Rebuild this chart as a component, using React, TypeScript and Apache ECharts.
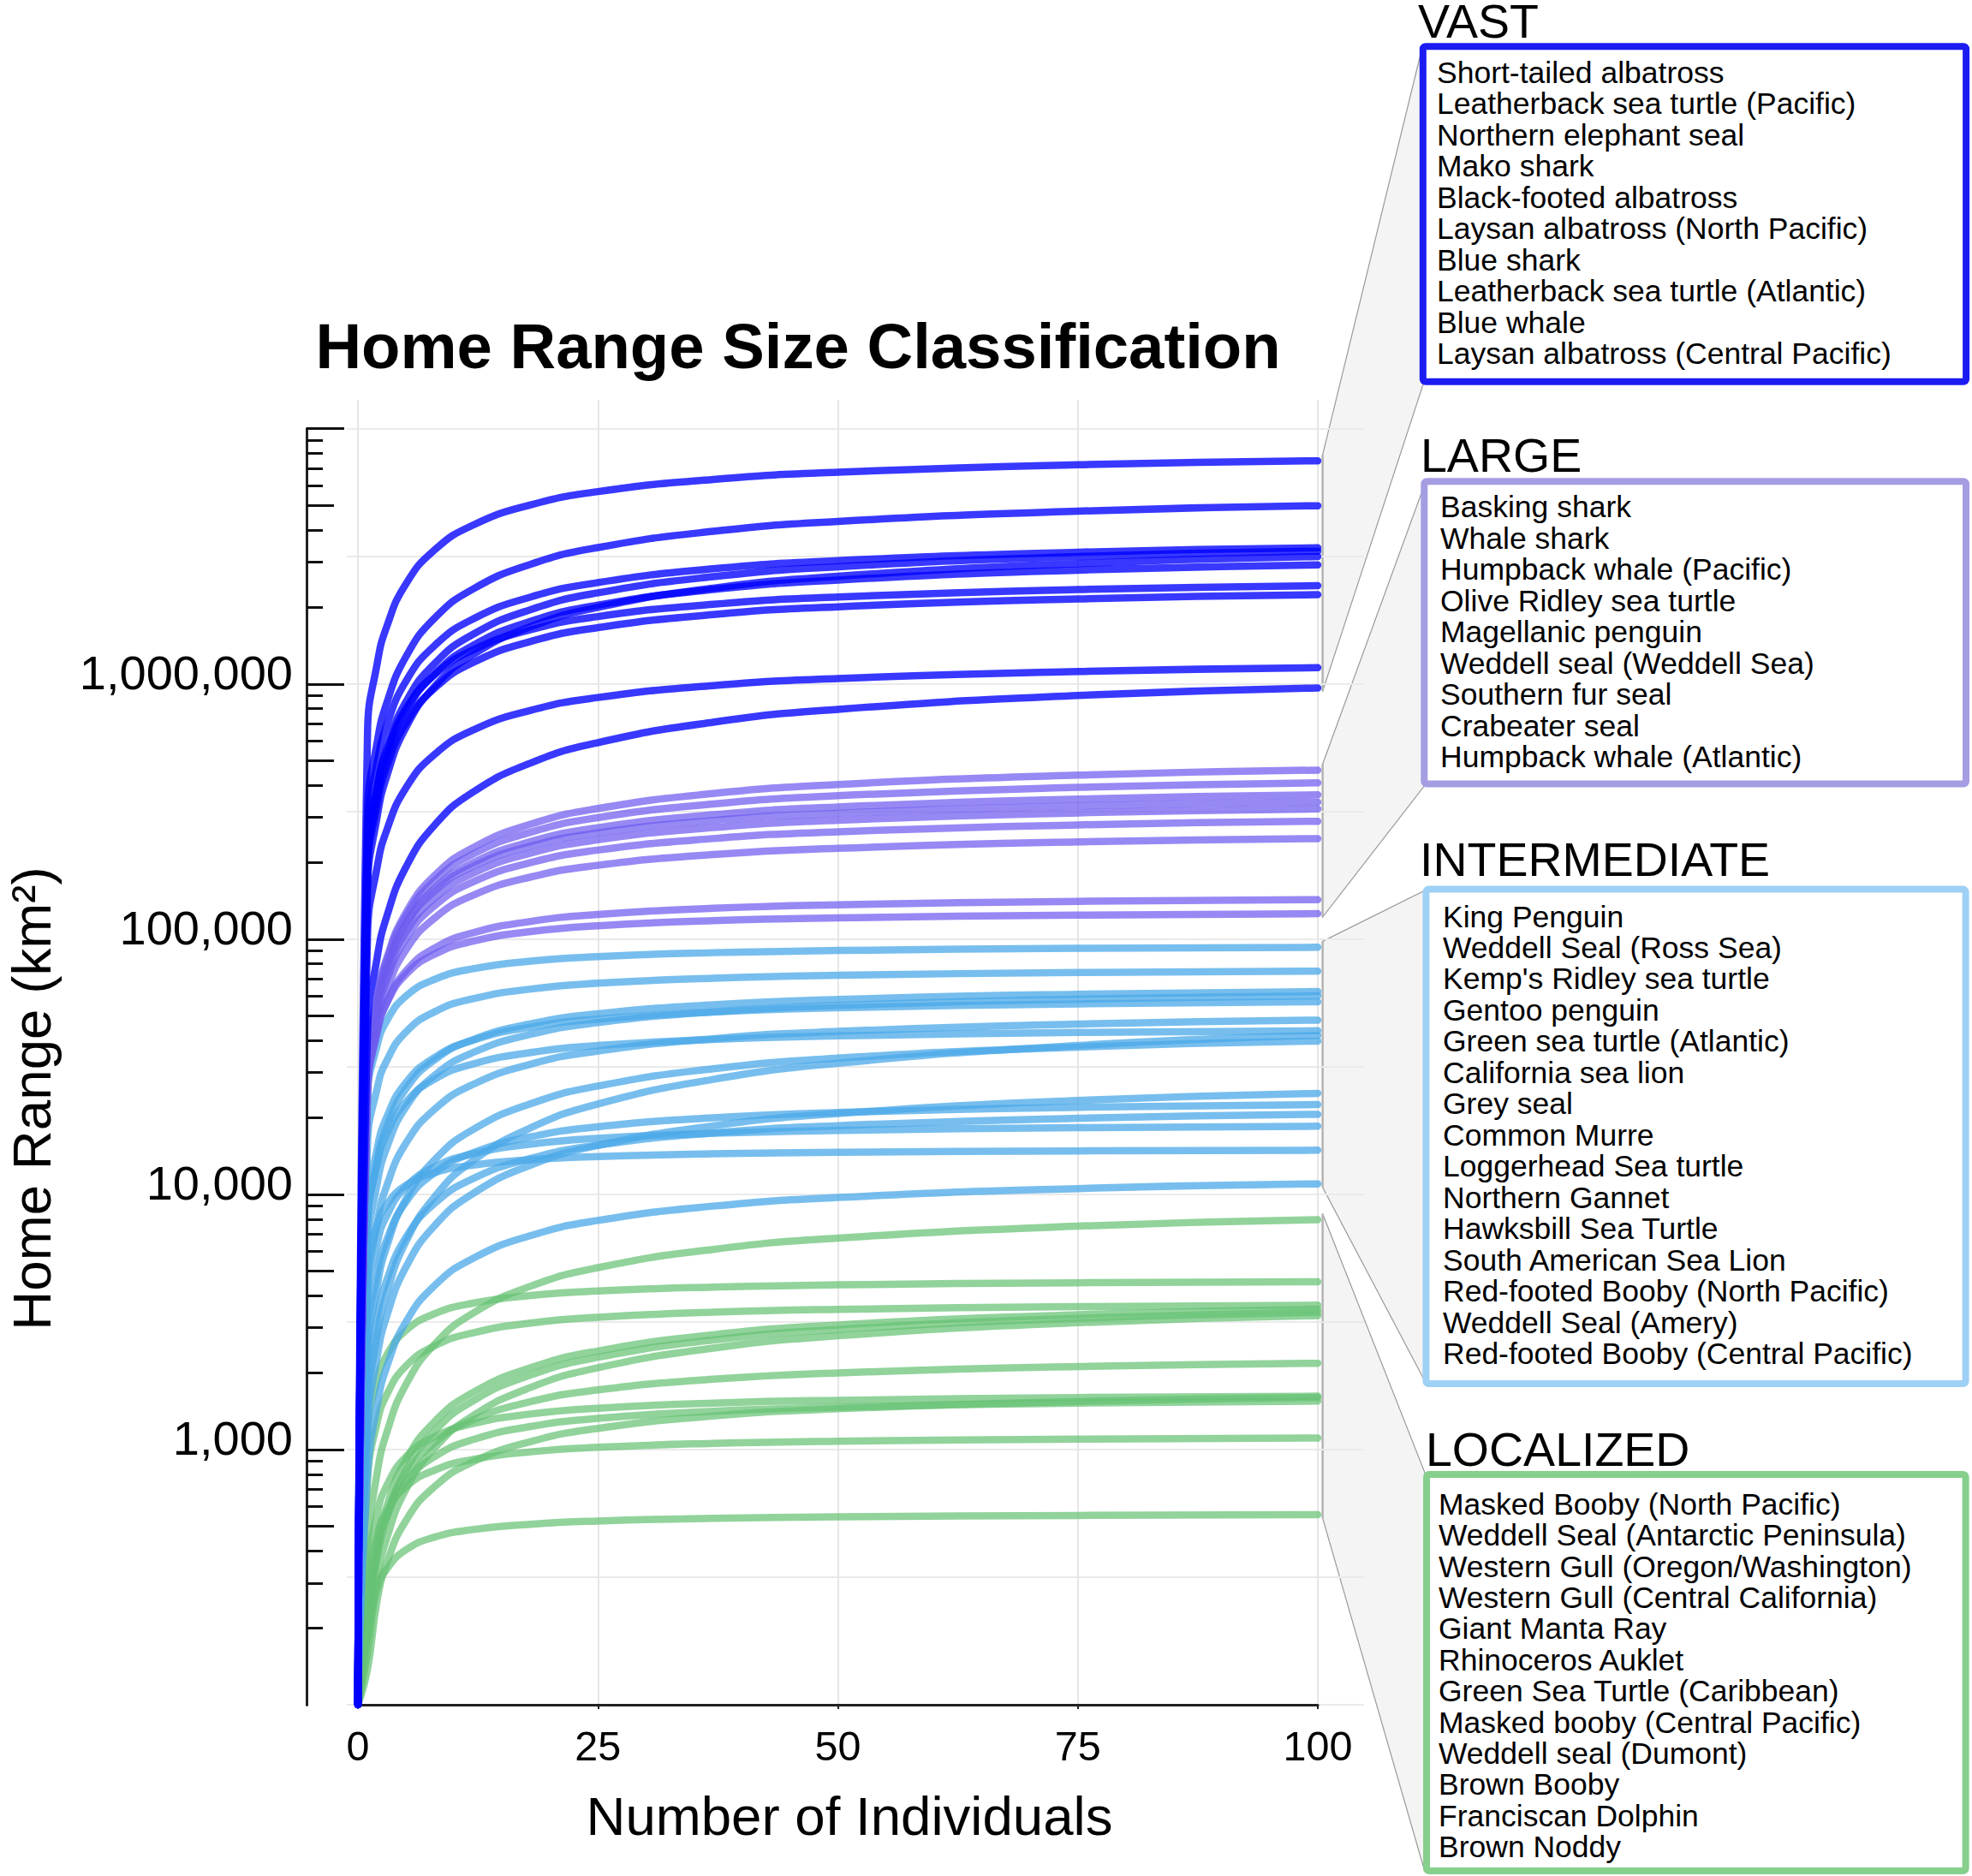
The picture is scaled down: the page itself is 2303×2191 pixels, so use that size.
import React, { useEffect, useRef } from "react";
import * as echarts from "echarts";

const FONT = "'Liberation Sans', Arial, Helvetica, sans-serif";

// ---------------- DATA ----------------
const X_VALUES = [0, 1, 2, 3, 5, 8, 12, 18, 25, 37, 50, 75, 100];
const X_TICKS = [0, 25, 50, 75, 100];
const Y_LABEL_TICKS = [1000, 10000, 100000, 1000000];
const Y_MAJOR_TICKS = [1000, 10000, 100000, 1000000, 10000000];
const Y_MID_TICKS = [500, 5000, 50000, 500000, 5000000];
const Y_MINOR_TICKS = [
  200, 300, 400, 600, 700, 800, 900,
  2000, 3000, 4000, 6000, 7000, 8000, 9000,
  20000, 30000, 40000, 60000, 70000, 80000, 90000,
  200000, 300000, 400000, 600000, 700000, 800000, 900000,
  2000000, 3000000, 4000000, 6000000, 7000000, 8000000, 9000000,
];

const VAST_NAMES = [
  "Short-tailed albatross",
  "Leatherback sea turtle (Pacific)",
  "Northern elephant seal",
  "Mako shark",
  "Black-footed albatross",
  "Laysan albatross (North Pacific)",
  "Blue shark",
  "Leatherback sea turtle (Atlantic)",
  "Blue whale",
  "Laysan albatross (Central Pacific)",
];
const LARGE_NAMES = [
  "Basking shark",
  "Whale shark",
  "Humpback whale (Pacific)",
  "Olive Ridley sea turtle",
  "Magellanic penguin",
  "Weddell seal (Weddell Sea)",
  "Southern fur seal",
  "Crabeater seal",
  "Humpback whale (Atlantic)",
];
const INTERMEDIATE_NAMES = [
  "King Penguin",
  "Weddell Seal (Ross Sea)",
  "Kemp's Ridley sea turtle",
  "Gentoo penguin",
  "Green sea turtle (Atlantic)",
  "California sea lion",
  "Grey seal",
  "Common Murre",
  "Loggerhead Sea turtle",
  "Northern Gannet",
  "Hawksbill Sea Turtle",
  "South American Sea Lion",
  "Red-footed Booby (North Pacific)",
  "Weddell Seal (Amery)",
  "Red-footed Booby (Central Pacific)",
];
const LOCALIZED_NAMES = [
  "Masked Booby (North Pacific)",
  "Weddell Seal (Antarctic Peninsula)",
  "Western Gull (Oregon/Washington)",
  "Western Gull (Central California)",
  "Giant Manta Ray",
  "Rhinoceros Auklet",
  "Green Sea Turtle (Caribbean)",
  "Masked booby (Central Pacific)",
  "Weddell seal (Dumont)",
  "Brown Booby",
  "Franciscan Dolphin",
  "Brown Noddy",
];

// Home range (km²) at each X_VALUES point
const VAST_CURVES = [
  [100, 646000, 1200000, 1680000, 2470000, 3360000, 4200000, 5040000, 5680000, 6340000, 6770000, 7240000, 7500000],
  [100, 310000, 590000, 843000, 1280000, 1815000, 2360000, 2950000, 3430000, 3970000, 4340000, 4760000, 5000000],
  [100, 260000, 488000, 688000, 1026000, 1418000, 1800000, 2194000, 2500000, 2830000, 3047000, 3287000, 3420000],
  [100, 206000, 392000, 560000, 852000, 1206000, 1567000, 1959000, 2278000, 2636000, 2881000, 3160000, 3320000],
  [100, 157000, 301000, 435000, 676000, 980000, 1306000, 1679000, 1999000, 2377000, 2647000, 2968000, 3160000],
  [100, 190000, 361000, 514000, 779000, 1097000, 1418000, 1763000, 2040000, 2349000, 2558000, 2795000, 2930000],
  [100, 209000, 389000, 544000, 800000, 1089000, 1361000, 1633000, 1839000, 2055000, 2195000, 2347000, 2430000],
  [100, 181000, 337000, 475000, 703000, 964000, 1215000, 1470000, 1665000, 1873000, 2009000, 2157000, 2240000],
  [100, 103500, 191600, 267600, 392000, 530600, 660500, 789000, 886000, 987000, 1051500, 1121000, 1160000],
  [100, 43800, 84600, 122700, 191700, 280400, 377500, 490700, 589800, 709200, 796600, 902000, 966000],
];
const LARGE_CURVES = [
  [100, 31390, 59300, 84250, 127000, 177900, 228700, 282500, 325400, 372500, 404200, 439800, 460000],
  [100, 31160, 58400, 82500, 123000, 170000, 215700, 262900, 299600, 339100, 365200, 393900, 410000],
  [100, 29700, 55400, 78000, 115500, 158400, 199600, 241400, 273600, 307700, 330000, 354400, 368000],
  [100, 29700, 55200, 77300, 113600, 154600, 193200, 231800, 261100, 291800, 311600, 333100, 345000],
  [100, 27900, 51800, 72600, 106700, 145200, 181500, 217700, 245200, 274000, 292700, 312800, 324000],
  [100, 26800, 49500, 69000, 100600, 135500, 167900, 199800, 223500, 248100, 263900, 280700, 290000],
  [100, 24800, 45500, 63000, 90900, 121200, 148800, 175400, 194900, 214800, 227300, 240700, 248000],
  [100, 25000, 42900, 56300, 75100, 92400, 106000, 117500, 125100, 132300, 136500, 140800, 143000],
  [100, 26200, 43700, 56200, 72800, 87400, 98300, 107200, 113000, 118300, 121300, 124400, 126000],
];
const INTERMEDIATE_CURVES = [
  [100, 23950, 38320, 47900, 59870, 69670, 76630, 82110, 85530, 88610, 90370, 92100, 93000],
  [100, 15600, 26000, 33430, 43330, 52000, 58500, 63820, 67240, 70390, 72220, 74050, 75000],
  [100, 7490, 13480, 18380, 25920, 33700, 40430, 46650, 51050, 55410, 58090, 60900, 62400],
  [100, 6000, 11000, 15230, 22000, 29330, 36000, 42430, 47140, 51960, 55000, 58240, 60000],
  [100, 8620, 15080, 20100, 27410, 34460, 40210, 45230, 48640, 51890, 53850, 55840, 56900],
  [100, 4150, 7710, 10800, 15880, 21590, 26990, 32390, 36470, 40760, 43530, 46530, 48200],
  [100, 7670, 13140, 17250, 23000, 28300, 32460, 35990, 38330, 40510, 41810, 43120, 43800],
  [100, 1430, 2800, 4100, 6530, 9800, 13570, 18250, 22620, 28250, 32670, 38350, 42000],
  [100, 2280, 4350, 6250, 9580, 13680, 17960, 22680, 26600, 31080, 34200, 37800, 39900],
  [100, 1197, 2306, 3335, 5190, 7550, 10090, 13030, 15560, 18570, 20750, 23340, 24900],
  [100, 2700, 4860, 6630, 9350, 12150, 14580, 16820, 18410, 19980, 20950, 21960, 22500],
  [100, 1775, 3296, 4614, 6785, 9230, 11540, 13840, 15590, 17420, 18600, 19890, 20600],
  [100, 3850, 6410, 8250, 10690, 12830, 14430, 15740, 16590, 17360, 17810, 18270, 18500],
  [100, 5070, 7600, 9120, 10860, 12160, 13030, 13680, 14070, 14420, 14620, 14810, 14900],
  [100, 791, 1488, 2108, 3163, 4400, 5622, 6900, 7906, 9000, 9730, 10540, 11000],
];
const LOCALIZED_CURVES = [
  [100, 422, 809, 1165, 1798, 2590, 3427, 4370, 5165, 6090, 6744, 7509, 7960],
  [100, 1172, 1875, 2343, 2929, 3408, 3749, 4017, 4184, 4335, 4421, 4506, 4550],
  [100, 765, 1276, 1640, 2126, 2551, 2870, 3131, 3299, 3454, 3544, 3633, 3680],
  [100, 220, 419, 598, 911, 1289, 1676, 2095, 2435, 2818, 3080, 3378, 3550],
  [100, 197, 376, 540, 828, 1183, 1553, 1961, 2300, 2687, 2957, 3268, 3450],
  [100, 161, 310, 449, 698, 1015, 1358, 1753, 2094, 2499, 2792, 3141, 3350],
  [100, 218, 400, 553, 799, 1066, 1308, 1542, 1713, 1888, 1998, 2116, 2180],
  [100, 337, 562, 722, 936, 1123, 1264, 1379, 1453, 1521, 1560, 1600, 1620],
  [100, 138, 256, 358, 527, 717, 896, 1075, 1211, 1353, 1445, 1545, 1600],
  [100, 235, 411, 548, 747, 939, 1095, 1232, 1325, 1414, 1467, 1521, 1550],
  [100, 286, 457, 572, 715, 831, 915, 980, 1021, 1058, 1079, 1099, 1110],
  [100, 189, 284, 340, 405, 454, 486, 510, 525, 538, 545, 552, 556],
];

// ---------------- STYLE / LAYOUT ----------------
const GROUPS = [
  {
    key: "LOCALIZED", curves: LOCALIZED_CURVES, names: LOCALIZED_NAMES,
    line: "#66c275", lineOpacity: 0.72, border: "#86cf8c",
    heading: { x: 1665, y: 1693 }, list: { x: 1680, top: 1738.5, lh: 36.4 },
    box: { x: 1666, y: 1722, w: 629.6, h: 463 },
    conn: { rx: 1664, rTop: 1720, rBottom: 2186 },
  },
  {
    key: "INTERMEDIATE", curves: INTERMEDIATE_CURVES, names: INTERMEDIATE_NAMES,
    line: "#4aa8e8", lineOpacity: 0.75, border: "#9fd0f5",
    heading: { x: 1658, y: 1004 }, list: { x: 1685, top: 1052.3, lh: 36.47 },
    box: { x: 1665.4, y: 1038.6, w: 630.2, h: 577.4 },
    conn: { rx: 1664, rTop: 1040, rBottom: 1613 },
  },
  {
    key: "LARGE", curves: LARGE_CURVES, names: LARGE_NAMES,
    line: "#6e5cf0", lineOpacity: 0.72, border: "#a59de2",
    heading: { x: 1659, y: 532 }, list: { x: 1682, top: 573.8, lh: 36.5 },
    box: { x: 1663.3, y: 562.3, w: 632.7, h: 353.2 },
    conn: { rx: 1664, rTop: 565, rBottom: 917 },
  },
  {
    key: "VAST", curves: VAST_CURVES, names: VAST_NAMES,
    line: "#0000ff", lineOpacity: 0.78, border: "#1c1cf2",
    heading: { x: 1656, y: 24.5 }, list: { x: 1678, top: 66.5, lh: 36.5 },
    box: { x: 1661.8, y: 54.2, w: 634.3, h: 391.6 },
    conn: { rx: 1662, rTop: 51, rBottom: 449 },
  },
];

const fmt = (v: number) => Number(v).toLocaleString("en-US");

export default function App() {
  const ref = useRef<HTMLDivElement>(null);

  useEffect(() => {
    if (!ref.current) return;
    const chart = echarts.init(ref.current, null, { renderer: "svg" });

    const series: any[] = [];
    GROUPS.forEach((g) => {
      g.curves.forEach((c, i) => {
        series.push({
          name: `${g.key}-${i}`,
          type: "line",
          xAxisIndex: 0,
          yAxisIndex: 0,
          data: X_VALUES.map((x, j) => [x, c[j]]),
          showSymbol: false,
          symbol: "none",
          smooth: 0.5,
          silent: true,
          z: 3,
          lineStyle: { width: 8.5, color: g.line, opacity: g.lineOpacity, cap: "round", join: "round" },
        });
      });
    });

    const tickLine = { color: "#111", width: 3 };
    const gridBase = { containLabel: false, outerBoundsMode: "none" };
    // the y axis stands apart from the plot, at x = 358
    const tickGrid = { ...gridBase, left: 358, top: 500.7, width: 1181, height: 1490.3 };
    const hiddenX = (gi: number) => ({ gridIndex: gi, type: "value", min: 0, max: 1, show: false });
    const tickAxis = (gi: number, values: number[], length: number, extra: any = {}) => ({
      gridIndex: gi, type: "log", logBase: 10, min: 100, max: 10000000, position: "left", offset: 0,
      axisLine: { show: true, onZero: false, lineStyle: { color: "#222", width: 3 } },
      axisTick: { show: true, inside: true, length, customValues: values, lineStyle: tickLine },
      axisLabel: { show: false },
      splitLine: { show: false },
      ...extra,
    });

    const option: any = {
      animation: false,
      backgroundColor: "#ffffff",
      grid: [
        { ...gridBase, left: 418, top: 467, width: 1121, height: 1524 },
        { ...gridBase, left: 405, top: 500.7, width: 1188, height: 1490.3 },
        tickGrid,
        tickGrid,
        tickGrid,
      ],
      xAxis: [
        {
          gridIndex: 0, type: "value", min: 0, max: 100, interval: 12.5,
          axisLine: { show: true, onZero: false, lineStyle: { color: "#222", width: 3 } },
          axisTick: { show: true, customValues: X_TICKS, length: 5, lineStyle: { color: "#222", width: 2 } },
          axisLabel: {
            show: true, customValues: X_TICKS, fontSize: 48.5, color: "#000", fontFamily: FONT,
            margin: 23, showMinLabel: true, showMaxLabel: true, hideOverlap: false,
          },
          splitLine: { show: true, lineStyle: { color: "#e6e6e6", width: 2 } },
        },
        hiddenX(1),
        hiddenX(2),
        hiddenX(3),
        hiddenX(4),
      ],
      yAxis: [
        { gridIndex: 0, type: "log", logBase: 10, min: 100, max: 13000000, show: false },
        {
          gridIndex: 1, type: "value", min: 2, max: 7, interval: 0.5,
          axisLine: { show: false }, axisTick: { show: false }, axisLabel: { show: false },
          splitLine: { show: true, lineStyle: { color: "#eaeaea", width: 2 } },
        },
        tickAxis(2, Y_MAJOR_TICKS, 44, {
          axisLabel: {
            show: true, customValues: Y_LABEL_TICKS, formatter: fmt, fontSize: 56, margin: 16,
            verticalAlign: "bottom", lineHeight: 26, color: "#000", fontFamily: FONT,
            showMinLabel: true, showMaxLabel: true,
          },
        }),
        tickAxis(3, Y_MID_TICKS, 32),
        tickAxis(4, Y_MINOR_TICKS, 19),
      ],
      series,
    };

    chart.setOption(option);

    const px = (x: number, v: number) => chart.convertToPixel({ gridIndex: 0 } as any, [x, v]) as number[];

    const txt = (text: string, x: number, y: number, fontSize: number, extra: any = {}) => ({
      type: "text",
      x, y,
      z: 20,
      ...extra.el,
      style: {
        text,
        fontSize,
        fontFamily: FONT,
        fontWeight: extra.fontWeight || "normal",
        fill: "#000",
        align: extra.align || "left",
        textAlign: extra.align || "left",
        verticalAlign: extra.verticalAlign || "middle",
        textVerticalAlign: extra.verticalAlign || "middle",
        lineHeight: extra.lineHeight,
      },
    });

    const graphics: any[] = [];
    GROUPS.forEach((g) => {
      const ends = g.curves.map((c) => c[c.length - 1]);
      const hi = Math.max(...ends);
      const lo = Math.min(...ends);
      const pTop = px(100.5, hi);
      const pBot = px(100.5, lo);
      const lx = pTop[0];
      const yTop = pTop[1] - 7;
      const yBot = pBot[1] + 4;
      graphics.push({
        type: "polygon",
        z: -5,
        shape: { points: [[lx, yTop], [g.conn.rx, g.conn.rTop], [g.conn.rx, g.conn.rBottom], [lx, yBot]] },
        style: { fill: "#f4f4f4", stroke: "#9a9a9a", lineWidth: 1.2 },
      });
      graphics.push({
        type: "line",
        z: -4,
        shape: { x1: lx, y1: yTop, x2: lx, y2: yBot },
        style: { stroke: "#b4b4b4", lineWidth: 2.5 },
      });
      graphics.push({
        type: "rect",
        z: 10,
        shape: { x: g.box.x, y: g.box.y, width: g.box.w, height: g.box.h, r: 3 },
        style: { fill: "#ffffff", stroke: g.border, lineWidth: 8 },
      });
      graphics.push(txt(g.key, g.heading.x, g.heading.y, 55.5, { lineHeight: 44 }));
      graphics.push(
        txt(g.names.join("\n"), g.list.x, g.list.top, 35.5, { verticalAlign: "top", lineHeight: g.list.lh })
      );
    });

    graphics.push(txt("Home Range Size Classification", 932, 404, 74.3, { align: "center", fontWeight: "bold" }));
    graphics.push(txt("Number of Individuals", 992, 2120, 63.6, { align: "center" }));
    graphics.push(
      txt("Home Range (km²)", 36, 1283, 63.7, { align: "center", lineHeight: 50, el: { rotation: Math.PI / 2 } })
    );

    chart.setOption({ graphic: graphics });

    return () => chart.dispose();
  }, []);

  return (
    <div
      ref={ref}
      style={{ position: "absolute", left: 0, top: 0, width: 2303, height: 2191, background: "#fff" }}
    />
  );
}
